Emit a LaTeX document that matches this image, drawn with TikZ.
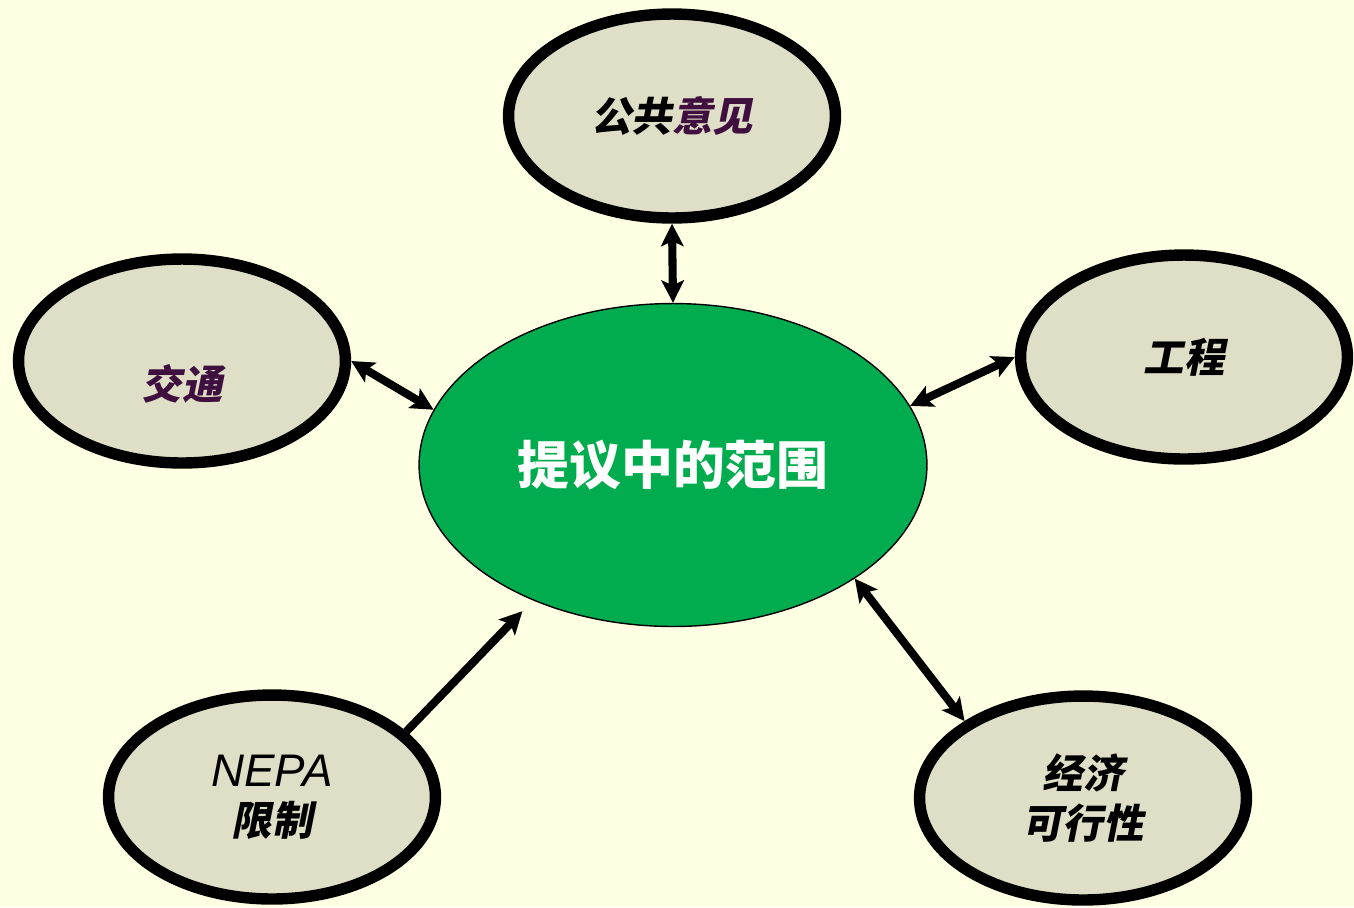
\documentclass[tikz,border=0pt]{standalone}
\usepackage{fontspec}
\setmainfont{Liberation Sans}
\newfontfamily\cjk{Noto Sans CJK SC}
\newfontfamily\cjkit[FakeSlant=0.2]{Noto Sans CJK SC}
\usetikzlibrary{shapes,arrows.meta}
\definecolor{bgyellow}{HTML}{FFFFE3}
\definecolor{topicfill}{HTML}{DFDFC8}
\definecolor{scopegreen}{HTML}{00AC4E}
\definecolor{plum}{HTML}{3F0F3F}
\tikzstyle{topic} = [ellipse, draw, line width=6.5pt, fill=topicfill,
	minimum width=6.54cm, minimum height=4.08cm, align=center,
	font=\fontsize{23}{28}\selectfont]
\tikzstyle{core} = [ellipse, draw, line width=0.8pt, fill=scopegreen,
	minimum width=10.16cm, minimum height=6.46cm, text=white,
	font=\cjk\bfseries\fontsize{29.5}{35}\selectfont]
\tikzstyle{line} = [draw, line width=4.6pt,
	-{Stealth[length=0.45cm,width=0.45cm,inset=0.1cm]}]
\tikzstyle{dline} = [draw, line width=4.6pt,
	{Stealth[length=0.45cm,width=0.45cm,inset=0.1cm]}-{Stealth[length=0.45cm,width=0.45cm,inset=0.1cm]}]

\begin{document}
\begin{tikzpicture}[x=0.02cm, y=-0.02cm]

	% Background
	\fill [bgyellow] (0,0) rectangle (1354,907);
	\useasboundingbox (0,0) rectangle (1354,907);

	% Place nodes
	\node [core] (scope) at (673,465) {提议中的范围};
	\node [topic] (opinion) at (672,116) {{\cjkit\bfseries 公共}{\cjkit\bfseries\color{plum}意见}};
	\node [topic] (traffic) at (182,361) {\raisebox{-0.45cm}[\height][\depth]{\cjkit\bfseries\color{plum}交通}};
	\node [topic] (engineering) at (1184,357) {\cjkit\bfseries 工程};
	\node [topic] (nepa) at (272,797) {{\fontsize{26}{28}\selectfont\textit{NEPA}}\\{\cjkit\bfseries 限制}};
	\node [topic] (economy) at (1083,798) {{\cjkit\bfseries 经济}\\{\cjkit\bfseries 可行性}};

	% Draw edges
	\path [dline] (opinion.south) -- (scope.north);
	\path [dline] (traffic.east) -- (scope.167);
	\path [dline] (engineering.west) -- (scope.14);
	\path [line, shorten >=0.3cm] (nepa.26) -- (scope.224);
	\path [dline] (scope.-32) -- (economy.147);
\end{tikzpicture}
\end{document}
